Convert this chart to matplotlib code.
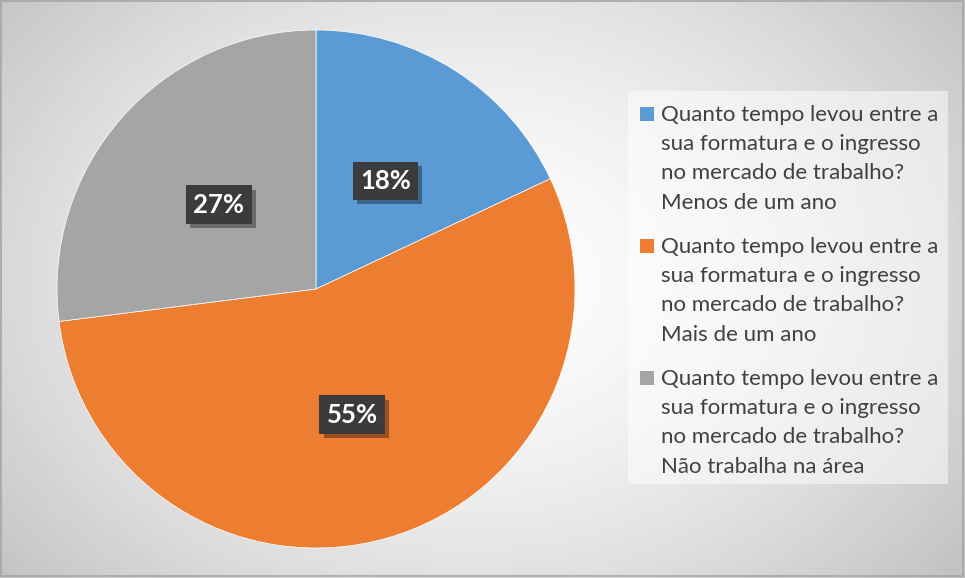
import numpy as np
import matplotlib.pyplot as plt
import matplotlib.patheffects as pe
from matplotlib.patches import Rectangle

plt.rcParams['font.family'] = ['Lato', 'DejaVu Sans']

pergunta = 'Quanto tempo levou entre a\nsua formatura e o ingresso\nno mercado de trabalho?\n'
categorias = ['Menos de um ano', 'Mais de um ano', 'Não trabalha na área']
valores = [18, 55, 27]
cores = ['#5B9BD5', '#ED7D31', '#A5A5A5']
rotulos = [pergunta + c for c in categorias]

fig = plt.figure(figsize=(9.65, 5.78), dpi=100)

# gradient background (pixel coords, y down)
bg = fig.add_axes([0, 0, 1, 1])
yy, xx = np.mgrid[0:578, 0:965]
r = np.sqrt(((xx - 470) / 560.0) ** 2 + ((yy - 280) / 420.0) ** 2)
shade = np.clip(0.995 - 0.2 * r ** 1.6, 0.76, 1)
bg.imshow(shade, cmap='gray', vmin=0, vmax=1, extent=[0, 965, 578, 0], aspect='auto')
bg.set_xlim(0, 965)
bg.set_ylim(578, 0)
bg.axis('off')
bg.add_patch(Rectangle((1, 1), 962, 575, fill=False, edgecolor='#a6a6a6', lw=1.2))

ax = fig.add_axes([57 / 965, 30 / 578, 518 / 965, 518 / 578])
wedges, _ = ax.pie(valores, colors=cores, startangle=90, counterclock=False,
                   radius=1, wedgeprops=dict(edgecolor='white', linewidth=0.5))
ax.set_xlim(-1, 1)
ax.set_ylim(-1, 1)
ax.set_aspect('equal')

# data labels
start = 90.0
total = sum(valores)
for v in valores:
    ang = np.deg2rad(start - v / total * 360 / 2)
    start -= v / total * 360
    x, y = 0.5 * np.cos(ang), 0.5 * np.sin(ang)
    t = ax.text(x, y - 0.005, f'{v}%', ha='center', va='center', fontsize=18.5,
                fontweight='bold', color='white',
                bbox=dict(boxstyle='square,pad=0.28', facecolor='#3b3b3b', edgecolor='none'))
    t.get_bbox_patch().set_path_effects([
        pe.SimplePatchShadow(offset=(3, -3), shadow_rgbFace='black', alpha=0.35),
        pe.Normal()])

# legend, drawn by hand so the markers sit on the first line
bg.add_patch(Rectangle((628, 91), 320, 393, facecolor='white', alpha=0.5, edgecolor='none'))
for i, (w, lab) in enumerate(zip(wedges, rotulos)):
    y0 = 107 + i * 132
    bg.add_patch(Rectangle((640, y0), 14, 14, facecolor=w.get_facecolor(), edgecolor='none'))
    # va='baseline' anchors the last line of a multi-line text
    bg.text(661, y0 + 14 + 3 * 29.3, lab, ha='left', va='baseline', fontsize=16,
            color='#404040', linespacing=1.59)

fig.savefig('out.png', dpi=100)
